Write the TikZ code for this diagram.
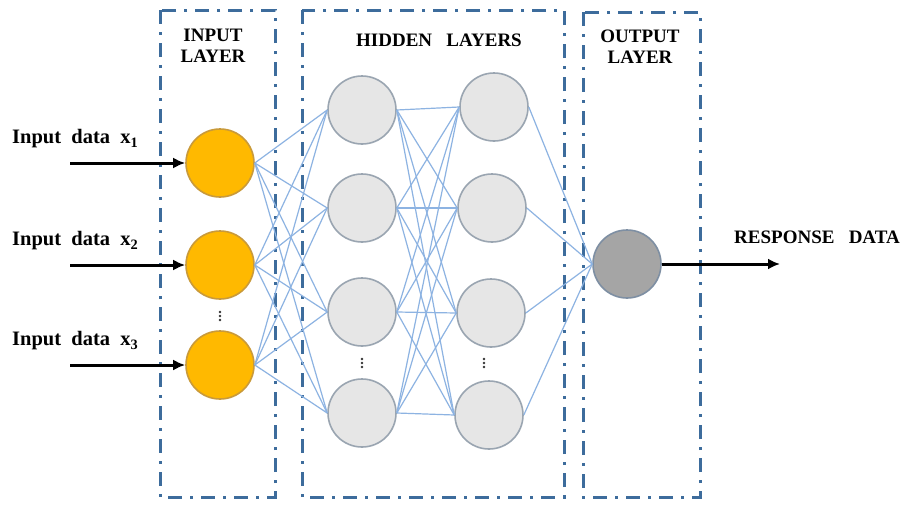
\documentclass[tikz,border=0pt]{standalone}
\usepackage{fontspec}
\setmainfont{Liberation Serif}
\usetikzlibrary{arrows.meta}
\definecolor{boxblue}{HTML}{3D6C9C}
\definecolor{wireblue}{HTML}{8DB3E2}
\definecolor{inyellow}{HTML}{FFB900}
\definecolor{inrim}{HTML}{C99A3A}
\definecolor{hidgray}{HTML}{E6E6E6}
\definecolor{hidrim}{HTML}{9AA5B1}
\definecolor{outgray}{HTML}{A5A5A5}
\definecolor{outrim}{HTML}{7E8FA3}
\tikzset{
  neuron/.style={circle,minimum size=68pt,inner sep=0pt,line width=1.6pt},
  innode/.style={neuron,fill=inyellow,draw=inrim},
  hidnode/.style={neuron,fill=hidgray,draw=hidrim},
  outnode/.style={neuron,fill=outgray,draw=outrim},
  layerbox/.style={draw=boxblue,line width=3pt,dash pattern=on 14pt off 8pt on 3pt off 8pt},
  wire/.style={draw=wireblue,line width=1.2pt},
  feed/.style={line width=3pt,-{Latex[length=12pt,width=11pt]}},
  dotmark/.style={circle,fill=black!80,inner sep=0pt,minimum size=2.6pt},
  lbl/.style={font=\bfseries\fontsize{19}{21}\selectfont,align=center,inner sep=0pt},
  sidelbl/.style={lbl,font=\bfseries\fontsize{20.5}{22}\selectfont,anchor=west}
}
\begin{document}
\begin{tikzpicture}[x=1pt,y=-1pt]
 \useasboundingbox[fill=white] (0,0) rectangle (909,506);
 % layer frames
 \draw[layerbox] (160,10) rectangle (275,497);
 \draw[layerbox] (302,10) rectangle (564,497);
 \draw[layerbox] (583,12) rectangle (700,497);
 \node[lbl] (inhead) at (213,46) {INPUT\\LAYER};
 \node[lbl] (hidhead) at (439,40) {HIDDEN\ \ \ LAYERS};
 \node[lbl] (outhead) at (640,47) {OUTPUT\\LAYER};
 % weights first, neurons on top
 \foreach \n/\y in {1/163,2/265,3/365}
  \coordinate (ci\n) at (220,\y);
 \foreach \n/\y in {1/110,2/208,3/312,4/413}
  \coordinate (ca\n) at (362,\y);
 \foreach \n/\x/\y in {1/494/107,2/492/208,3/491/313,4/489/415}
  \coordinate (cb\n) at (\x,\y);
 \foreach \n/\y in {1/163,2/265,3/365}
  \node[innode] (i\n) at (ci\n) {};
 \foreach \n in {1,...,4}
  \node[hidnode] (a\n) at (ca\n) {};
 \foreach \n in {1,...,4}
  \node[hidnode] (b\n) at (cb\n) {};
 \node[outnode] (o) at (627,264) {};
 \foreach \i in {1,2,3}
  \foreach \j in {1,2,3,4}
   \draw[wire] (i\i.east) -- (a\j.west);
 \foreach \i in {1,2,3,4}
  \foreach \j in {1,2,3,4}
   \draw[wire] (a\i.east) -- (b\j.west);
 \foreach \i in {1,2,3,4}
  \draw[wire] (b\i.east) -- (o.west);
 % dots
 \foreach \k/\x/\y in {1/220/316,2/362/363,3/484/363}
  \foreach \m in {-4,0,4}
   \node[dotmark] (d\k\m) at (\x,\y+\m) {};
 % inputs and output
 \foreach \n/\y in {1/163,2/265,3/365}{
  \coordinate (s\n) at (70,\y);
  \draw[feed] (s\n) -- (i\n.west);
  \node[sidelbl] (t\n) at (12,\y-24) {Input\ \ data\ \ x\textsubscript{\n}};
 }
 \coordinate (r) at (780,264);
 \draw[feed] (o.east) -- (r);
 \node[lbl,anchor=west] (rt) at (734,237) {RESPONSE\ \ \ DATA};
\end{tikzpicture}
\end{document}
